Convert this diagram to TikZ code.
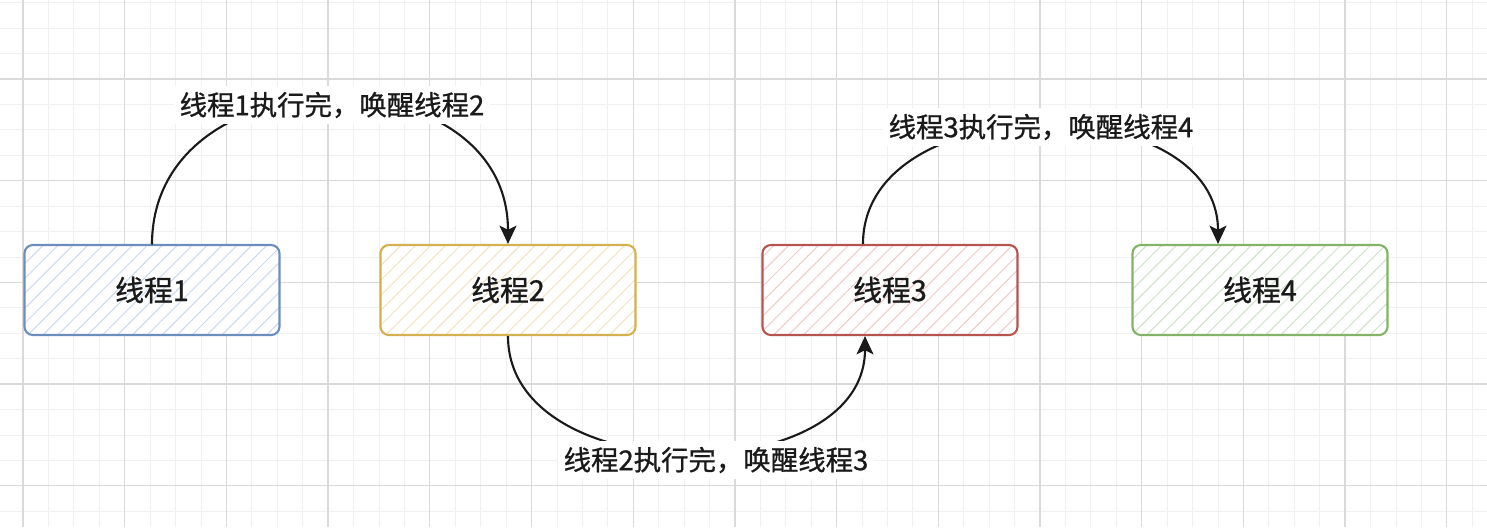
\documentclass[tikz,border=0pt]{standalone}
\usepackage{fontspec}
\setmainfont[FakeBold=0.9]{Noto Sans CJK SC}
\usetikzlibrary{calc,patterns.meta,arrows.meta}

\definecolor{gridminor}{HTML}{F0F0F0}
\definecolor{gridmajor}{HTML}{DADADA}
\definecolor{blueline}{HTML}{6C8EBF}
\definecolor{bluehatch}{HTML}{CBD8EE}
\definecolor{yellowline}{HTML}{D4B04E}
\definecolor{yellowhatch}{HTML}{EFE3C0}
\definecolor{redline}{HTML}{B85450}
\definecolor{redhatch}{HTML}{EECAC8}
\definecolor{greenline}{HTML}{82B366}
\definecolor{greenhatch}{HTML}{CFE0CB}
\definecolor{inkcol}{HTML}{1A1A1A}

\newcommand{\boxwidth}{6.375cm}
\newcommand{\boxheight}{2.25cm}

\begin{document}
\begin{tikzpicture}[x=0.025cm,y=-0.025cm,
  thread/.style={draw=#1line, line width=1.5pt, rounded corners=6pt,
    minimum width=\boxwidth, minimum height=\boxheight, inner sep=0pt,
    preaction={fill=white},
    pattern={Lines[angle=45,distance=7.5pt,line width=0.7pt]}, pattern color=#1hatch,
    font=\fontsize{20.5}{24}\selectfont, text=inkcol},
  wake/.style={draw=inkcol, line width=1.5pt, -{Stealth[length=13pt,width=12pt,inset=3pt]}},
  wakelabel/.style={fill=white, inner sep=4pt, font=\fontsize{19.5}{23}\selectfont, text=inkcol}]

\useasboundingbox (0,0) rectangle (1487,527);
\fill[white] (0,0) rectangle (1487,527);

% draw grid
\foreach \i in {0,...,58} \draw[gridminor, line width=0.6pt] ({-2.4+25.425*\i},0) -- ++(0,527);
\foreach \j in {0,...,20} \draw[gridminor, line width=0.6pt] (0,{2.7+25.425*\j}) -- ++(1487,0);
\foreach \i in {0,...,14} \draw[gridmajor, line width=0.9pt] ({23+101.7*\i},0) -- ++(0,527);
\foreach \j in {0,...,4} \draw[gridmajor, line width=0.9pt] (0,{79+101.7*\j}) -- ++(1487,0);

% draw threads
\node[thread=blue] (t1) at (152,290) {线程1};
\node[thread=yellow] (t2) at (508,290) {线程2};
\node[thread=red] (t3) at (890,290) {线程3};
\node[thread=green] (t4) at (1260,290) {线程4};

\coordinate (t3in) at ($(t3.south)+(-25,0)$);
\coordinate (t3out) at ($(t3.north)+(-27,0)$);
\coordinate (t4in) at ($(t4.north)+(-42,0)$);

% draw wake-up arrows
\draw[wake] (t1.north) .. controls ($(t1.north)+(0,-193)$) and ($(t2.north)+(0,-193)$) .. (t2.north);
\draw[wake] (t2.south) .. controls ($(t2.south)+(0,155)$) and ($(t3in)+(0,155)$) .. (t3in);
\draw[wake] (t3out) .. controls ($(t3out)+(0,-157)$) and ($(t4in)+(0,-157)$) .. (t4in);

% labels
\node[wakelabel] (w12) at (332,105) {线程1执行完，唤醒线程2};
\node[wakelabel] (w23) at (716,460) {线程2执行完，唤醒线程3};
\node[wakelabel] (w34) at (1041,127) {线程3执行完，唤醒线程4};

\end{tikzpicture}
\end{document}
